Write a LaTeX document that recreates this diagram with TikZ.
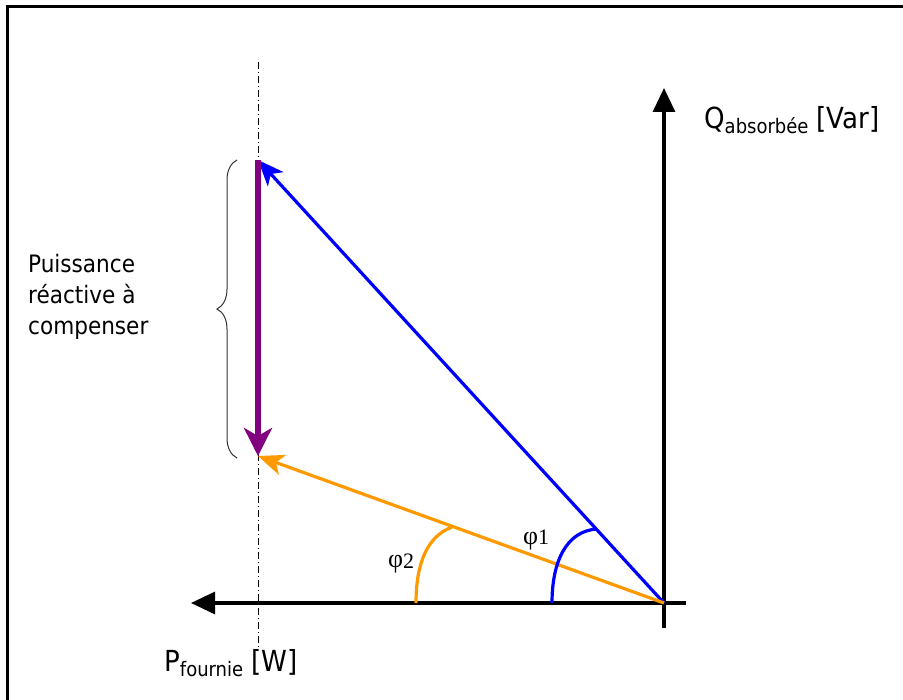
\documentclass[tikz,border=0pt]{standalone}
\usepackage{fontspec}
\setmainfont{DejaVu Sans Condensed}
\newfontfamily\phifont{Liberation Serif}
\usetikzlibrary{arrows.meta,decorations.pathreplacing}
\definecolor{myblue}{RGB}{0,0,255}
\definecolor{myorange}{RGB}{255,153,0}
\definecolor{mypurple}{RGB}{128,0,128}
\tikzset{
  axis/.style={line width=3.2pt,-{Triangle[length=24pt,width=22pt]}},
  vec/.style={line width=3.2pt,-{Stealth[length=26pt,width=21pt,inset=7pt]}},
  anglearc/.style={line width=3.2pt},
  lbl/.style={anchor=base west,inner sep=0pt,font=\fontsize{29}{32}\selectfont},
}
\begin{document}
\begin{tikzpicture}[x=1pt,y=-1pt]
\useasboundingbox (0,0) rectangle (903,700);
% frame
\draw[line width=3pt] (7,700) -- (7,7) -- (903,7);
% points
\coordinate (O) at (664,603);
\coordinate (A) at (258,160);
\coordinate (B) at (258,456);
\coordinate (Qend) at (664,628);
\coordinate (Qtip) at (664,88);
\coordinate (Pend) at (686,603);
\coordinate (Ptip) at (191,603);
\coordinate (Dtop) at (258,62);
\coordinate (Dbot) at (258,650);
% dash-dot line
\draw[line width=0.9pt,dash pattern=on 7pt off 3pt on 1pt off 3pt] (Dtop) -- (Dbot);
% axes
\draw[axis] (Qend) -- (Qtip);
\draw[axis] (Pend) -- (Ptip);
% vectors
\draw[vec,color=myblue] (O) -- (A);
\draw[vec,color=myorange] (O) -- (B);
\draw[line width=6pt,color=mypurple,-{Stealth[length=28pt,width=28pt,inset=8pt]}] (A) -- (B);
% angle arcs
\draw[anglearc,color=myblue] (552,603) .. controls (552,562) and (566,531) .. (597,529);
\draw[anglearc,color=myorange] (416,603) .. controls (416,562) and (428,536) .. (452,527);
\node[inner sep=0pt,anchor=base west] (phi1) at (523,544) {\phifont\fontsize{26}{28}\selectfont φ\raisebox{-1pt}{\fontsize{22}{24}\selectfont 1}};
\node[inner sep=0pt,anchor=base west] (phi2) at (388,568) {\phifont\fontsize{26}{28}\selectfont φ\raisebox{-1pt}{\fontsize{22}{24}\selectfont 2}};
% brace
\draw[line width=1pt,color=black!80,decorate,decoration={brace,amplitude=20pt}] (237,458) -- (237,160);
\node[anchor=north west,inner sep=0pt,align=left,font=\fontsize{24}{31}\selectfont] (txt) at (28,254) {Puissance\\réactive à\\compenser};
% axis labels
\node[lbl] (Qlbl) at (704,129) {Q\raisebox{-5pt}{\fontsize{20}{22}\selectfont absorbée} [Var]};
\node[lbl] (Plbl) at (164,671) {P\raisebox{-5pt}{\fontsize{20}{22}\selectfont fournie} [W]};
\end{tikzpicture}
\end{document}
